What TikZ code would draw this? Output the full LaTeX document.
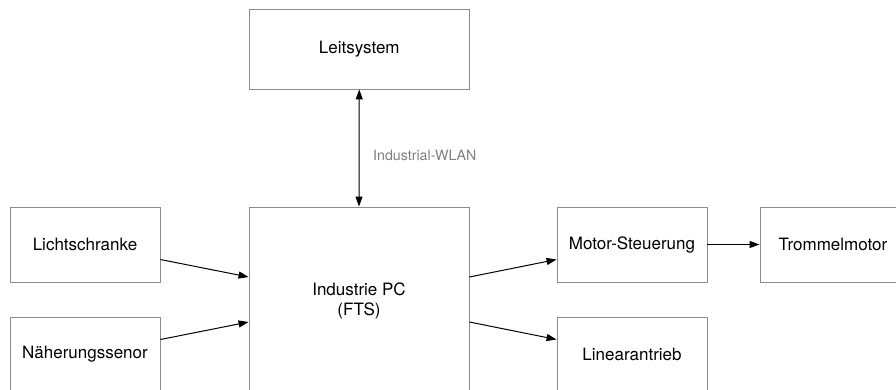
\documentclass[tikz,border=0pt]{standalone}
\usepackage{fontspec}
\setmainfont{TeX Gyre Heros}
\usetikzlibrary{arrows.meta}
\definecolor{boxline}{HTML}{8C8C8C}
\definecolor{labelgray}{HTML}{808080}
\tikzset{
  block/.style={draw=boxline, line width=0.9pt, fill=white, inner sep=0pt,
    minimum width=150pt, minimum height=75pt, align=center,
    font=\fontsize{17}{20}\selectfont},
  wide/.style={block, minimum width=220pt},
  link/.style={draw=black, line width=1pt, -{Triangle[length=10pt,width=7pt]}},
  duplex/.style={draw=black, line width=1pt,
    {Triangle[length=10pt,width=7pt]}-{Triangle[length=10pt,width=7pt]}},
  tag/.style={text=labelgray, font=\fontsize{14.2}{16}\selectfont, inner sep=0pt, anchor=west}
}
\begin{document}
\begin{tikzpicture}[x=1pt, y=-1pt]
  \useasboundingbox (0,0) rectangle (896,389);
  \clip (0,0) rectangle (896,389);
  \fill[white] (0,0) rectangle (896,389);

  % upper system
  \node[wide, minimum height=79.5pt] (leit) at (359.25,49.25) {Leitsystem};
  % central computer
  \node[wide, minimum height=188pt] (pc) at (359,301) {Industrie PC\\(FTS)};
  % sensors
  \node[block] (licht) at (85,244.5) {Lichtschranke};
  \node[block] (naeh)  at (85,354.5) {Näherungssenor};
  % actuators
  \node[block] (motor)   at (632,244.5) {Motor-Steuerung};
  \node[block] (linear)  at (632,354.5) {Linearantrieb};
  \node[block, minimum width=146pt] (trommel) at (833,244.5) {Trommelmotor};

  % connections
  \draw[duplex] (leit.south) -- (pc.north);
  \node[tag] (wlan) at (373,155) {Industrial-WLAN};

  \draw[link] ([yshift=-15pt]licht.east) -- ([yshift=24pt]pc.west);
  \draw[link] ([yshift=15pt]naeh.east) -- ([yshift=-21pt]pc.west);
  \draw[link] ([yshift=24pt]pc.east) -- ([yshift=-15pt]motor.west);
  \draw[link] ([yshift=-21pt]pc.east) -- ([yshift=15pt]linear.west);
  \draw[link] (motor.east) -- (trommel.west);
\end{tikzpicture}
\end{document}
